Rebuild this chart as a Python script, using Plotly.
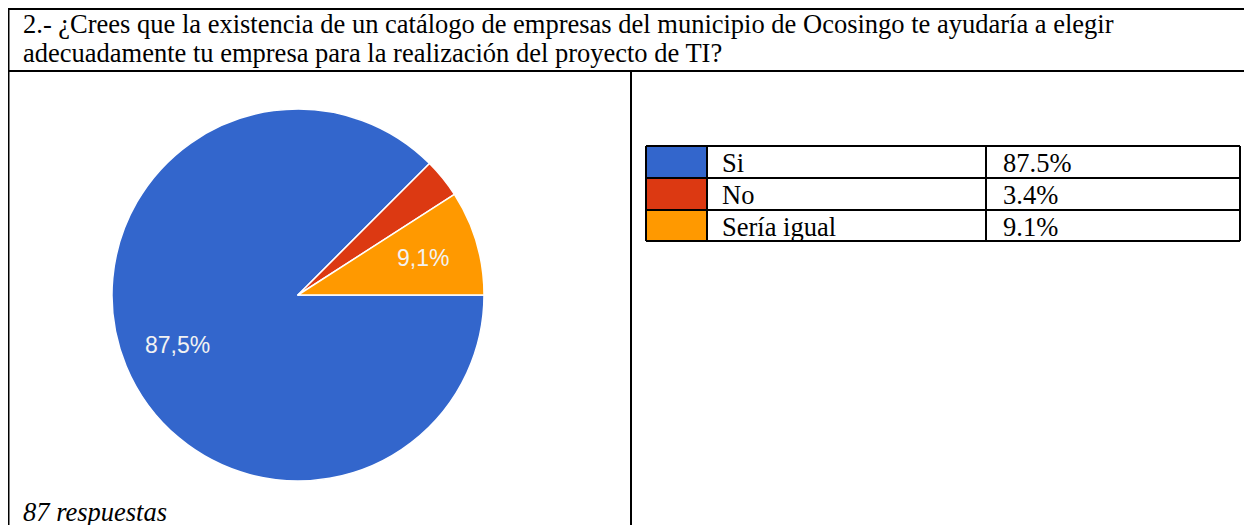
import math
import plotly.graph_objects as go

# ---- data ----
categories = ["Si", "No", "Sería igual"]
percent = [87.5, 3.4, 9.1]
pie_text = ["87,5%", "", "9,1%"]
table_text = ["87.5%", "3.4%", "9.1%"]
colors = ["#3366CC", "#DC3912", "#FF9900"]

question_lines = [
    "2.- ¿Crees que la existencia de un catálogo de empresas del municipio de Ocosingo te ayudaría a elegir",
    "adecuadamente tu empresa para la realización del proyecto de TI?",
]
footer = "87 respuestas"

W, H = 1252, 525
OFF = 8  # page body margin
SERIF = "Liberation Serif, Times New Roman, serif"
SANS = "Liberation Sans, Arial, sans-serif"
FS = 26.5


def px(x):
    return (x - OFF) / W


def py(y):
    return 1 - (y - OFF) / H


fig = go.Figure()

# pie, centre ~ (298, 295), radius ~186
cx, cy, r = 298, 295, 186
fig.add_trace(go.Pie(
    labels=categories, values=percent, textinfo="none",
    marker=dict(colors=colors, line=dict(color="white", width=1.5)),
    sort=False, direction="clockwise", rotation=90,
    domain=dict(x=[px(cx - r), px(cx + r)], y=[py(cy + r), py(cy - r)]),
    showlegend=False, hoverinfo="label+percent",
))

annotations = []

# slice labels at 70% of radius along each slice's mid angle (clockwise from 3 o'clock)
total = sum(percent)
start = 0.0
for val, txt in zip(percent, pie_text):
    mid = start + val / total * 180
    start += val / total * 360
    if not txt:
        continue
    a = math.radians(mid)
    annotations.append(dict(text=txt, x=px(cx + 0.7 * r * math.cos(a)),
                            y=py(cy + 0.7 * r * math.sin(a)),
                            xanchor="center", yanchor="middle",
                            font=dict(family=SANS, size=23, color="#F2F2F2")))

shapes = []
LINE = dict(color="black", width=2)


def hline(x0, x1, y):
    shapes.append(dict(type="line", xref="paper", yref="paper",
                       x0=px(x0), x1=px(x1), y0=py(y), y1=py(y), line=LINE))


def vline(x, y0, y1):
    shapes.append(dict(type="line", xref="paper", yref="paper",
                       x0=px(x), x1=px(x), y0=py(y0), y1=py(y1), line=LINE))


# outer document table
hline(7, 1260, 9)
hline(7, 1260, 71)
vline(8.5, 8, 530)
vline(631, 71, 530)

# legend table
tx0, tx1, tx2, tx3 = 646, 707, 986, 1240
ty = [146, 178, 210, 241]
for i, c in enumerate(colors):
    shapes.append(dict(type="rect", xref="paper", yref="paper",
                       x0=px(tx0), x1=px(tx1), y0=py(ty[i + 1]), y1=py(ty[i]),
                       fillcolor=c, line=dict(width=0), layer="below"))
for y in ty:
    hline(tx0, tx3, y)
for x in (tx0, tx1, tx2, tx3):
    vline(x, ty[0], ty[-1])

# question text, one annotation per line
for line, ymid in zip(question_lines, (24, 53)):
    annotations.append(dict(text=line, x=px(21), y=py(ymid), xanchor="left", yanchor="middle",
                            font=dict(family=SERIF, size=FS, color="black")))
annotations.append(dict(text=f"<i>{footer}</i>", x=px(21), y=py(512), xanchor="left",
                        yanchor="middle", font=dict(family=SERIF, size=FS, color="black")))

for i, (cat, val) in enumerate(zip(categories, table_text)):
    ymid = (ty[i] + ty[i + 1]) / 2 + 1
    annotations.append(dict(text=cat, x=px(tx1 + 13), y=py(ymid), xanchor="left",
                            yanchor="middle", font=dict(family=SERIF, size=FS, color="black")))
    annotations.append(dict(text=val, x=px(tx2 + 15), y=py(ymid), xanchor="left",
                            yanchor="middle", font=dict(family=SERIF, size=FS, color="black")))
for a in annotations:
    a.update(xref="paper", yref="paper", showarrow=False)

fig.update_layout(
    width=W, height=H, margin=dict(l=0, r=0, t=0, b=0),
    paper_bgcolor="white", plot_bgcolor="white",
    shapes=shapes, annotations=annotations,
)

fig.write_html("out.html")
